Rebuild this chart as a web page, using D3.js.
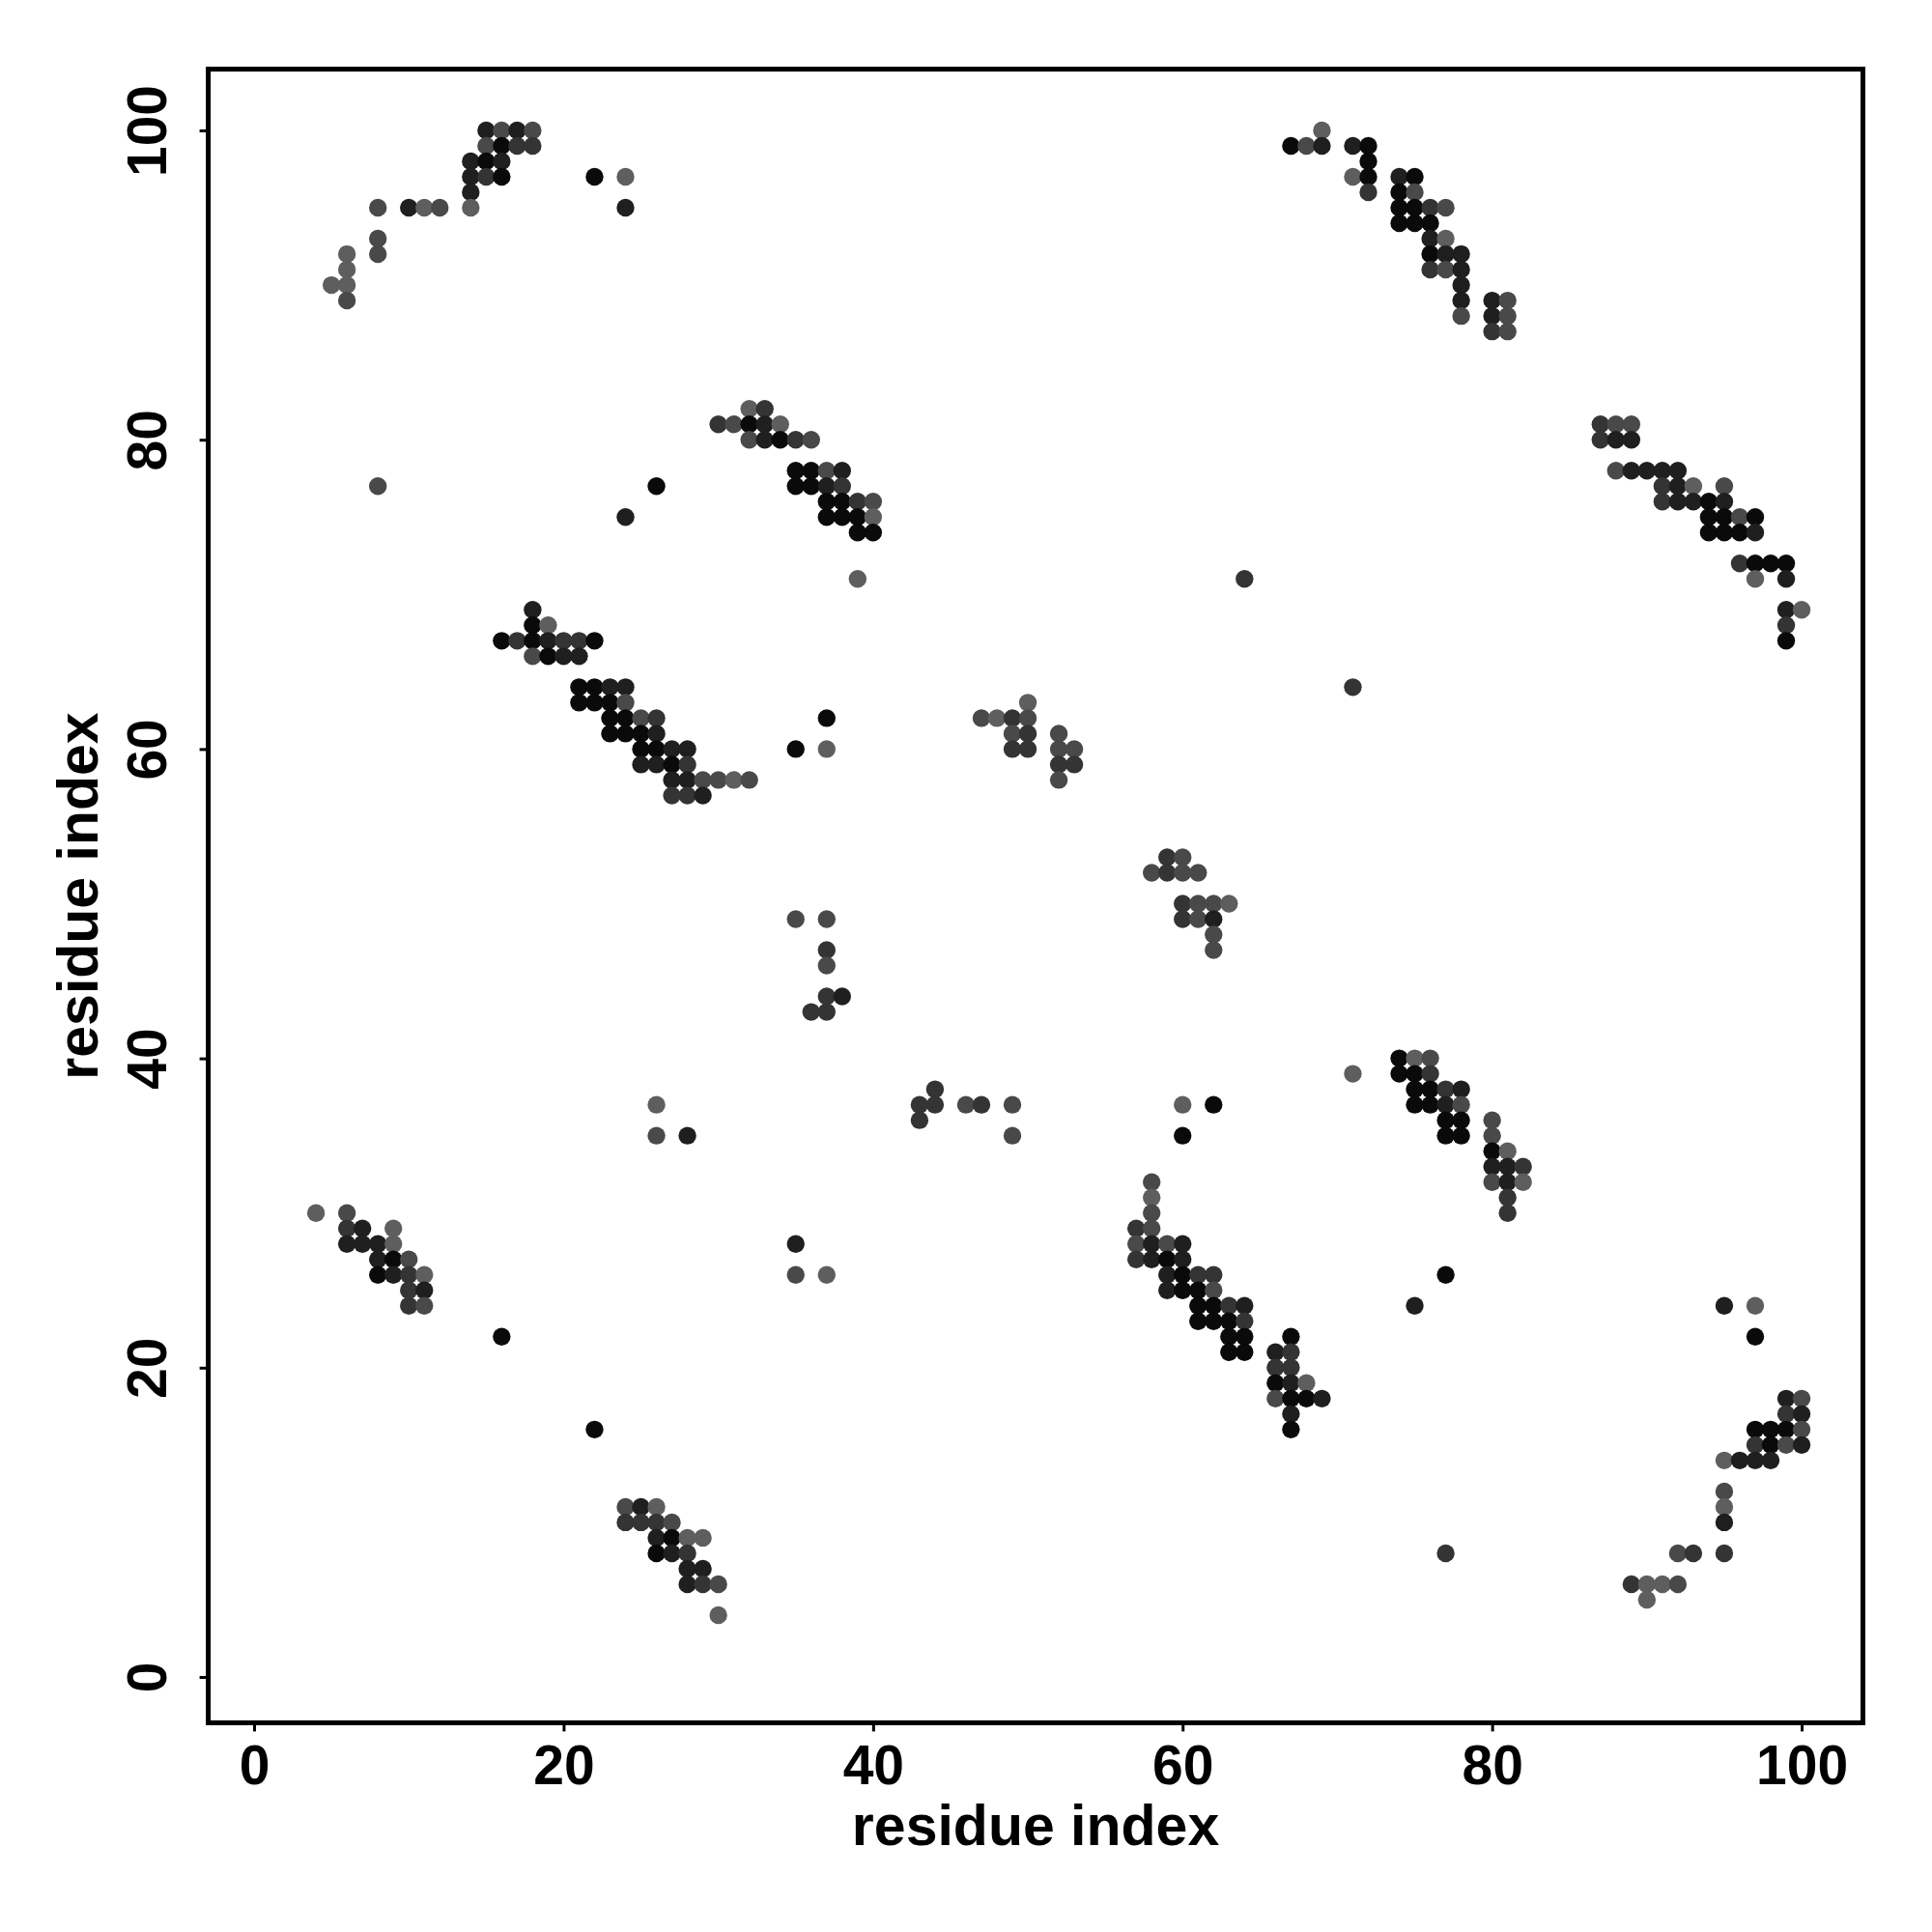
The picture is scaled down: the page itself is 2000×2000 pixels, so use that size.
<!DOCTYPE html>
<html>
<head>
<meta charset="utf-8">
<script src="https://cdn.jsdelivr.net/npm/d3@7"></script>
<style>
  html, body { margin: 0; padding: 0; background: #fff; }
  svg { display: block; }
  text { font-family: "Liberation Sans", Arial, Helvetica, sans-serif; font-weight: bold; }
</style>
</head>
<body>
<svg id="chart" width="2000" height="2000"></svg>
<script>
// ---- data ----
// contact map: residue i (x), residue j (y), confidence level 1 (light) .. 5 (black)
const resX = [
  15,16,17,18, 15,16,17,18, 14,15,16, 14,15,16, 22,24, 14,
  8,10,11,12,14,24, 8, 6,8, 6, 5,6, 6, 8,26,24,
  32,33, 30,31,32,33,34, 32,33,34,35,36,
  35,36,37,38, 35,36,37,38, 37,38,39,40, 37,38,39,40, 39,40, 39,64,
  67,68,69,69,71,72, 72, 71,72,74,75, 72,74,75, 74,75,76,77, 74,75,76,
  76,77, 76,77,78, 76,77,78, 78,78,78, 80,81,80,81,80,81,
  87,88,89, 87,88,89, 88,89,90,91,92, 91,92,93,95, 91,92,93,94,95,
  94,95,96,97, 94,95,96,97, 96,97,98,99, 97,99, 99,100, 99,99,
  18,18,19, 16,17,18,19,20,21,22, 18,19,20,21,
  21,22,23,24, 21,22,23,24, 23,24,25,26, 23,24,25,26,
  25,26,27,28, 25,26,27,28, 27,28,29,30,31,32, 27,28,29, 26,26,28,
  37,35,37, 50, 47,48,49,50, 49,50, 49,50, 52,52,53,52,53,52,
  59,60, 58,59,60,61, 60,61,62,63, 60,61,62, 62,62,
  35,37, 37,37, 37,38, 36,37, 44, 43,44,46,47,49, 43,49, 60,62,60,
  71,71, 74,75,76, 74,75,76, 75,76,77,78, 75,76,77,78, 77,78, 77,78,
  80,80,80,81, 80,81,82, 80,81,82, 81,81,
  77,75,95,97,97, 99,100, 99,100, 97,98,99,100, 97,98,99,100,
  95,96,97,98, 95,95,95, 77,92,93,95, 89,90,91,92, 90,
  35,35,37, 58,58,58, 57,58, 57,58,59,60, 57,58,59,60, 59,60,61,62,
  59,60,61,62, 61,62,63,64, 61,62,63,64, 63,64,67, 63,64,66,67, 66,67,
  66,67,68, 66,67,68,69, 67,67,
  4,6, 6,7,9, 6,7,8,9, 8,9,10, 8,9,10,11, 10,11, 10,11, 16,22,
  24,25,26, 24,25,26,27, 26,27,28,29, 26,27,28, 28,29, 28,29,30, 30
];
const resY = [
  100,100,100,100, 99,99,99,99, 98,98,98, 97,97,97, 97,97, 96,
  95,95,95,95,95,95, 93, 92,92, 91, 90,90, 89, 77,77,75,
  82,82, 81,81,81,81,81, 80,80,80,80,80,
  78,78,78,78, 77,77,77,77, 76,76,76,76, 75,75,75,75, 74,74, 71,71,
  99,99,100,99,99,99, 98, 97,97,97,97, 96,96,96, 95,95,95,95, 94,94,94,
  93,93, 92,92,92, 91,91,91, 90,89,88, 89,89,88,88,87,87,
  81,81,81, 80,80,80, 78,78,78,78,78, 77,77,77,77, 76,76,76,76,76,
  75,75,75,75, 74,74,74,74, 72,72,72,72, 71,71, 69,69, 68,67,
  69,68,68, 67,67,67,67,67,67,67, 66,66,66,66,
  64,64,64,64, 63,63,63,63, 62,62,62,62, 61,61,61,61,
  60,60,60,60, 59,59,59,59, 58,58,58,58,58,58, 57,57,57, 37,35,35,
  62,60,60, 63, 62,62,62,62, 61,61, 60,60, 61,60,60,59,59,58,
  53,53, 52,52,52,52, 50,50,50,50, 49,49,49, 48,47,
  49,49, 47,46, 44,44, 43,43, 38, 37,37,37,37,37, 36,35, 37,37,35,
  64,39, 40,40,40, 39,39,39, 38,38,38,38, 37,37,37,37, 36,36, 35,35,
  36,35,34,34, 33,33,33, 32,32,32, 31,30,
  26,24,24,24,22, 18,18, 17,17, 16,16,16,16, 15,15,15,15,
  14,14,14,14, 12,11,10, 8,8,8,8, 6,6,6,6, 5,
  28,26,26, 32,31,30, 29,29, 28,28,28,28, 27,27,27,27, 26,26,26,26,
  25,25,25,25, 24,24,24,24, 23,23,23,23, 22,22,22, 21,21,21,21, 20,20,
  19,19,19, 18,18,18,18, 17,16,
  30,30, 29,29,29, 28,28,28,28, 27,27,27, 26,26,26,26, 25,25, 24,24, 22,16,
  11,11,11, 10,10,10,10, 9,9,9,9, 8,8,8, 7,7, 6,6,6, 4
];
const level = [
  4,2,4,2, 2,5,3,3, 4,5,4, 4,3,5, 5,1, 4,
  2,4,1,2,1,4, 2, 1,2, 1, 1,1, 2, 2,5,4,
  1,3, 3,2,5,4,1, 2,4,5,3,2,
  5,5,2,4, 5,5,4,3, 5,5,3,2, 5,5,5,1, 5,5, 1,3,
  5,2,1,4,4,5, 5, 1,5,4,5, 3,5,2, 5,5,3,2, 5,5,5,
  4,1, 5,4,4, 3,2,4, 4,4,2, 4,2,4,2,3,2,
  3,2,2, 3,4,4, 2,4,4,4,4, 3,4,1,2, 3,4,4,5,4,
  5,5,2,5, 5,5,5,4, 3,5,5,5, 1,4, 4,1, 3,5,
  4,5,1, 5,3,5,4,3,3,5, 2,5,4,4,
  5,5,4,4, 5,5,5,2, 5,5,2,3, 5,5,5,4,
  5,5,4,4, 4,4,5,3, 4,4,2,2,1,2, 3,3,4, 1,2,4,
  5,5,1, 1, 2,1,3,2, 2,3, 3,3, 2,2,2,3,3,2,
  3,2, 2,3,2,2, 3,2,2,1, 3,2,4, 2,2,
  2,2, 3,2, 3,4, 3,3, 3, 3,3,2,3,2, 3,2, 1,5,5,
  3,1, 5,1,2, 5,5,3, 5,5,3,4, 5,5,4,2, 5,5, 5,5,
  2,2,5,1, 4,4,3, 2,4,1, 3,3,
  5,4,4,1,5, 4,2, 3,4, 5,5,5,2, 3,5,2,4,
  1,4,4,4, 2,1,4, 3,2,3,3, 3,1,1,2, 1,
  4,2,1, 2,1,2, 3,2, 2,4,2,4, 3,4,5,4, 4,5,3,3,
  4,5,5,2, 5,5,3,4, 5,5,5,3, 5,5,5, 5,5,4,3, 3,3,
  5,4,1, 2,5,5,4, 4,5,
  1,2, 3,4,1, 4,4,4,1, 4,5,2, 5,4,3,1, 3,4, 3,2, 5,5,
  2,4,1, 3,3,3,2, 4,5,1,1, 5,4,3, 4,4, 4,3,2, 1
];
const xTicks = [0, 20, 40, 60, 80, 100];
const yTicks = [0, 20, 40, 60, 80, 100];
const xTitle = "residue index";
const yTitle = "residue index";

// ---- chart ----
const svg = d3.select("#chart");
svg.append("rect").attr("width", 2000).attr("height", 2000).attr("fill", "#fff");

const pLeft = 215.6, pRight = 1928.5, pTop = 71.6, pBottom = 1783.4;
const x = d3.scaleLinear().domain([-2.96, 103.96]).range([pLeft, pRight]);
const y = d3.scaleLinear().domain([-2.96, 103.96]).range([pBottom, pTop]);
const shade = d3.scaleLinear().domain([1, 5]).range(["#5e5e5e", "#0a0a0a"]).interpolate(d3.interpolateRgb);

const n = Math.min(resX.length, resY.length, level.length);
const pts = d3.range(n).map(i => ({ x: resX[i], y: resY[i], l: level[i] }));

svg.append("g").selectAll("circle").data(pts).join("circle")
  .attr("cx", d => x(d.x))
  .attr("cy", d => y(d.y))
  .attr("r", 9.2)
  .attr("fill", d => shade(d.l));

// axes
const fs = 57;
const gx = svg.append("g").attr("transform", `translate(0,${pBottom})`)
  .call(d3.axisBottom(x).tickValues(xTicks).tickSize(9).tickPadding(14).tickFormat(d3.format("d")));
gx.select(".domain").remove();
gx.selectAll(".tick line").attr("stroke", "#000").attr("stroke-width", 3);
gx.selectAll(".tick text").attr("fill", "#000").attr("font-size", fs)
  .attr("font-family", "'Liberation Sans', Arial, sans-serif").attr("font-weight", "bold");

const gy = svg.append("g").attr("transform", `translate(${pLeft},0)`)
  .call(d3.axisLeft(y).tickValues(yTicks).tickSize(9).tickPadding(0).tickFormat(d3.format("d")));
gy.select(".domain").remove();
gy.selectAll(".tick line").attr("stroke", "#000").attr("stroke-width", 3);
gy.selectAll(".tick text")
  .attr("fill", "#000").attr("font-size", fs)
  .attr("font-family", "'Liberation Sans', Arial, sans-serif").attr("font-weight", "bold")
  .attr("x", null).attr("dy", null)
  .attr("text-anchor", "middle")
  .attr("transform", `translate(${172 - pLeft},0) rotate(-90)`);

// frame
svg.append("rect")
  .attr("x", pLeft).attr("y", pTop)
  .attr("width", pRight - pLeft).attr("height", pBottom - pTop)
  .attr("fill", "none").attr("stroke", "#000").attr("stroke-width", 5);

// titles
svg.append("text")
  .attr("x", (pLeft + pRight) / 2).attr("y", 1910)
  .attr("text-anchor", "middle").attr("font-size", 59).attr("fill", "#000")
  .text(xTitle);
svg.append("text")
  .attr("transform", `translate(101,${(pTop + pBottom) / 2}) rotate(-90)`)
  .attr("text-anchor", "middle").attr("font-size", 59).attr("fill", "#000")
  .text(yTitle);
</script>
</body>
</html>
